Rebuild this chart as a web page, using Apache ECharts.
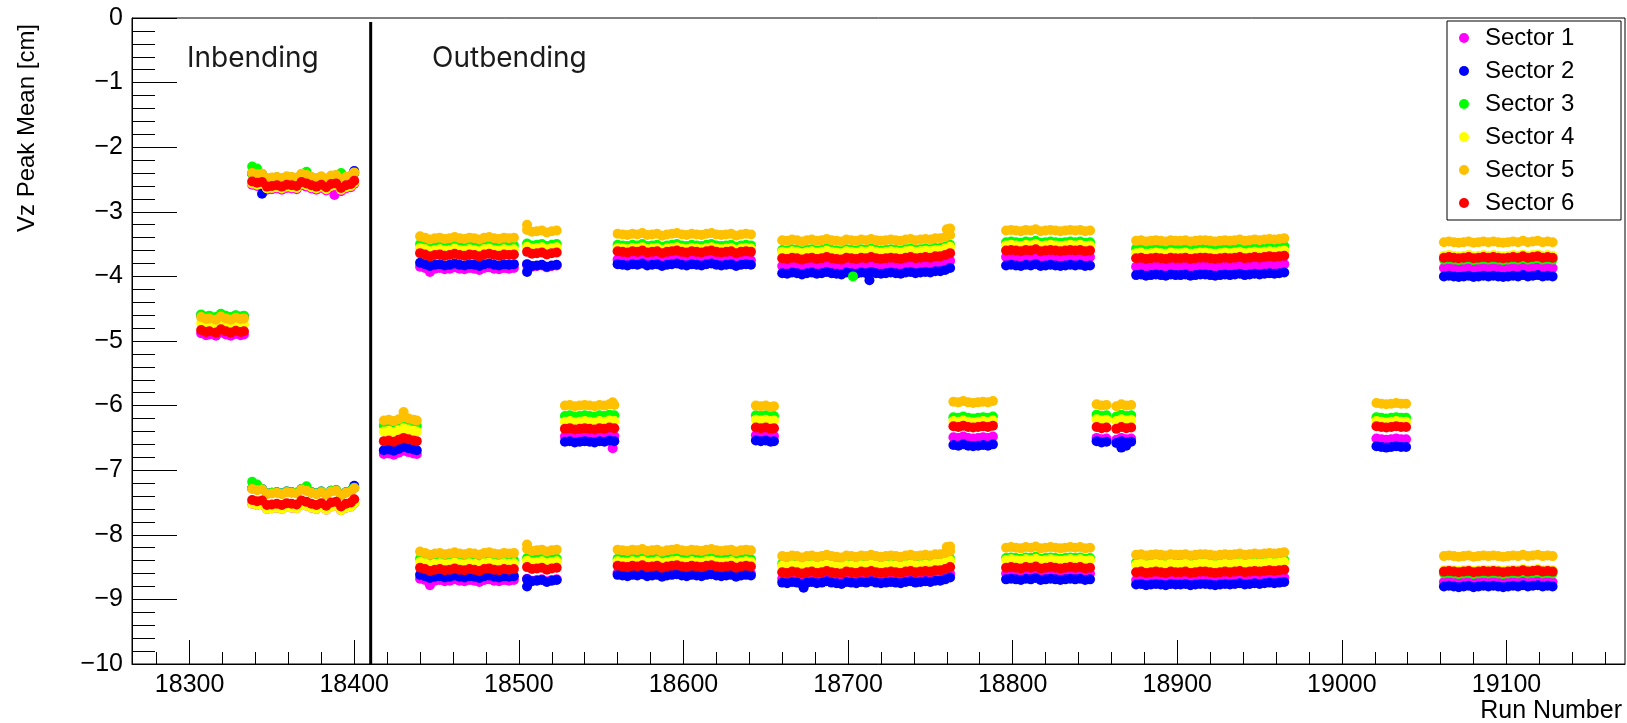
<!DOCTYPE html>
<html lang="en">
<head>
<meta charset="UTF-8" />
<title>Vz Peak Mean vs Run Number</title>
<script src="https://cdn.jsdelivr.net/npm/echarts@6/dist/echarts.min.js"></script>
<style>
  html, body { margin: 0; padding: 0; background: #fff; }
  #chart { width: 1627px; height: 723px; }
</style>
</head>
<body>
<div id="chart"></div>
<script>
// sectors and colours
const sectors = ['Sector 1', 'Sector 2', 'Sector 3', 'Sector 4', 'Sector 5', 'Sector 6'];
const colors = ['#ff00ff', '#0000ff', '#00ff00', '#ffff00', '#ffc000', '#ff0000'];

// axis ticks
const xMajor = [18300, 18400, 18500, 18600, 18700, 18800, 18900, 19000, 19100];
const dividerRun = 18410;

// run blocks (runs) + small wiggle seen in the bands
const runsI1 = [18307, 18310, 18312, 18316, 18319, 18322, 18325, 18328, 18331, 18333];
const wigI1 = [0.02, -0.01, 0, -0.02, 0.03, 0, -0.02, 0.01, -0.01, 0];
const runsI2 = [18338, 18341, 18344, 18347, 18350, 18353, 18356, 18359, 18362, 18365, 18368, 18371, 18374, 18377, 18380, 18383, 18386, 18389, 18392, 18395, 18398, 18400];
const wigI2 = [0.06, 0.04, 0.05, -0.02, -0.01, 0, -0.02, 0.01, 0, -0.01, 0.05, 0.03, 0, -0.02, 0.01, -0.03, 0.02, 0.03, -0.04, 0, 0.02, 0.07];
const runsM1 = [18418, 18421, 18424, 18427, 18430, 18433, 18436, 18438];
const wigM1 = [0, 0.01, -0.01, 0.02, 0.05, 0.03, 0.01, 0];
const runsO1 = [18440, 18443, 18446, 18449, 18452, 18455, 18458, 18461, 18464, 18467, 18470, 18473, 18476, 18479, 18482, 18485, 18488, 18491, 18494, 18497];
const wigO1 = [0.03, 0.01, -0.02, 0, 0.01, -0.01, 0, 0.02, 0, -0.01, 0.01, 0, -0.02, 0.01, 0.02, 0, -0.01, 0.01, 0, 0.01];
const runsO2 = [18505, 18508, 18511, 18514, 18517, 18520, 18523];
const wigO2 = [0.02, -0.01, 0, 0.01, -0.02, 0, 0.01];
const runsM2 = [18528, 18531, 18534, 18537, 18540, 18543, 18546, 18549, 18552, 18555, 18558];
const wigM2 = [0, 0.01, -0.01, 0, 0.01, 0, -0.01, 0.01, 0, 0.02, 0.01];
const runsO3 = [18560, 18563, 18566, 18569, 18572, 18575, 18578, 18581, 18584, 18587, 18590, 18593, 18596, 18599, 18602, 18605, 18608, 18611, 18614, 18617, 18620, 18623, 18626, 18629, 18632, 18635, 18638, 18641];
const wigO3 = [0.01, 0, -0.01, 0.01, 0, 0.02, -0.01, 0, 0.01, -0.02, 0, 0.01, 0.02, 0, -0.01, 0.01, 0, -0.01, 0.01, 0.02, 0, -0.01, 0, 0.01, -0.02, 0, 0.01, 0];
const runsM3 = [18644, 18647, 18650, 18653, 18655];
const wigM3 = [0.01, 0, 0.01, -0.01, 0];
const runsO4 = [18660, 18663, 18666, 18669, 18672, 18675, 18678, 18681, 18684, 18687, 18690, 18693, 18696, 18699, 18702, 18705, 18708, 18711, 18714, 18717, 18720, 18723, 18726, 18729, 18732, 18735, 18738, 18741, 18744, 18747, 18750, 18753, 18756, 18759, 18762];
const wigO4 = [0, -0.01, 0.01, 0, -0.02, 0, 0.01, -0.01, 0, 0.02, 0, -0.01, -0.02, 0.01, 0, -0.01, 0.01, 0, 0.02, 0, -0.01, 0, 0.01, 0, -0.01, 0.01, 0.02, 0, 0.01, 0.02, 0.01, 0.03, 0.03, 0.05, 0.08];
const runsM4 = [18764, 18767, 18770, 18773, 18776, 18779, 18782, 18785, 18788];
const wigM4 = [0.01, 0, 0.02, 0, -0.01, 0, 0.01, 0, 0.02];
const runsO5 = [18796, 18799, 18802, 18805, 18808, 18811, 18814, 18817, 18820, 18823, 18826, 18829, 18832, 18835, 18838, 18841, 18844, 18847];
const wigO5 = [0, 0.01, 0, -0.01, 0.01, 0, 0.02, -0.01, 0, 0.01, 0, -0.01, 0, 0.01, 0, 0.01, -0.01, 0];
const runsM5 = [18851, 18854, 18857, 18863, 18866, 18869, 18872];
const wigM5 = [0.02, 0, 0.01, -0.01, 0.02, 0, 0.01];
const runsO6 = [18875, 18878, 18881, 18884, 18887, 18890, 18893, 18896, 18899, 18902, 18905, 18908, 18911, 18914, 18917, 18920, 18923, 18926, 18929, 18932, 18935, 18938, 18941, 18944, 18947, 18950, 18953, 18956, 18959, 18962, 18965];
const wigO6 = [0, 0.01, -0.01, 0, 0.01, 0, -0.01, 0.01, 0, 0, 0.01, -0.01, 0, 0.01, 0.01, 0, -0.01, 0, 0.01, 0, 0.01, 0.02, 0, 0.01, 0.02, 0.01, 0.02, 0.03, 0.02, 0.03, 0.04];
const runsM6 = [19021, 19024, 19027, 19030, 19033, 19036, 19039];
const wigM6 = [0.01, 0, -0.01, 0, 0.01, 0, 0];
const runsO7 = [19062, 19065, 19068, 19071, 19074, 19077, 19080, 19083, 19086, 19089, 19092, 19095, 19098, 19101, 19104, 19107, 19110, 19113, 19116, 19119, 19122, 19125, 19128];
const wigO7 = [0, 0.01, 0, -0.01, 0, 0.01, -0.01, 0, 0.01, 0, 0.01, 0, -0.01, 0, 0.01, 0, 0.02, 0, 0.01, 0.02, 0, 0.01, 0];

// band levels per sector [S1, S2, S3, S4, S5, S6]
const lvlI1 = [-4.90, -4.62, -4.61, -4.74, -4.65, -4.85];
const lvlI2top = [-2.64, -2.47, -2.47, -2.62, -2.46, -2.59];
const lvlI2bot = [-7.58, -7.34, -7.34, -7.58, -7.35, -7.52];
const lvlM1 = [-6.75, -6.69, -6.31, -6.40, -6.23, -6.55];
const lvlO1top = [-3.88, -3.82, -3.53, -3.59, -3.41, -3.67];
const lvlO1bot = [-8.71, -8.65, -8.40, -8.45, -8.29, -8.54];
const lvlO2top = [-3.84, -3.83, -3.51, -3.56, -3.30, -3.64];
const lvlO2bot = [-8.70, -8.71, -8.38, -8.42, -8.24, -8.52];
const lvlM2 = [-6.48, -6.56, -6.16, -6.25, -6.00, -6.36];
const lvlO3top = [-3.75, -3.82, -3.52, -3.57, -3.35, -3.62];
const lvlO3bot = [-8.60, -8.63, -8.38, -8.42, -8.24, -8.49];
const lvlM3 = [-6.47, -6.55, -6.16, -6.23, -6.01, -6.35];
const lvlO4top = [-3.84, -3.95, -3.59, -3.62, -3.44, -3.72];
const lvlO4bot = [-8.68, -8.74, -8.45, -8.48, -8.33, -8.58];
const lvlM4 = [-6.50, -6.62, -6.19, -6.25, -5.95, -6.33];
const lvlO5top = [-3.70, -3.83, -3.47, -3.52, -3.29, -3.60];
const lvlO5bot = [-8.60, -8.69, -8.36, -8.39, -8.20, -8.51];
const lvlM5 = [-6.52, -6.57, -6.16, -6.23, -6.00, -6.35];
const lvlO6top = [-3.85, -3.98, -3.57, -3.64, -3.45, -3.72];
const lvlO6bot = [-8.70, -8.77, -8.43, -8.46, -8.31, -8.58];
const lvlM6 = [-6.52, -6.64, -6.19, -6.25, -5.97, -6.33];
const lvlO7top = [-3.87, -4.00, -3.74, -3.68, -3.47, -3.71];
const lvlO7bot = [-8.73, -8.80, -8.60, -8.55, -8.33, -8.57];

// single points sticking out of the bands: [sector index, run, value]
const outliers = [
  [2, 18338, -2.30], [2, 18341, -2.33], [2, 18371, -2.38], [2, 18392, -2.40],
  [1, 18400, -2.37], [1, 18344, -2.72], [0, 18388, -2.74],
  [2, 18338, -7.18], [2, 18341, -7.22], [2, 18371, -7.25], [1, 18400, -7.24],
  [4, 18430, -6.10], [0, 18446, -3.93], [0, 18446, -8.78],
  [4, 18505, -3.20], [4, 18505, -8.15], [1, 18505, -3.93], [1, 18505, -8.80],
  [0, 18557, -6.66], [4, 18557, -5.95],
  [1, 18713, -4.06], [1, 18673, -8.82], [2, 18703, -4.00],
  [4, 18760, -3.27], [4, 18762, -3.26], [4, 18760, -8.19], [4, 18762, -8.18],
  [1, 18866, -6.65], [1, 18869, -6.62]
];

const blocks = [
  [runsI1, wigI1, [lvlI1]],
  [runsI2, wigI2, [lvlI2top, lvlI2bot]],
  [runsM1, wigM1, [lvlM1]],
  [runsO1, wigO1, [lvlO1top, lvlO1bot]],
  [runsO2, wigO2, [lvlO2top, lvlO2bot]],
  [runsM2, wigM2, [lvlM2]],
  [runsO3, wigO3, [lvlO3top, lvlO3bot]],
  [runsM3, wigM3, [lvlM3]],
  [runsO4, wigO4, [lvlO4top, lvlO4bot]],
  [runsM4, wigM4, [lvlM4]],
  [runsO5, wigO5, [lvlO5top, lvlO5bot]],
  [runsM5, wigM5, [lvlM5]],
  [runsO6, wigO6, [lvlO6top, lvlO6bot]],
  [runsM6, wigM6, [lvlM6]],
  [runsO7, wigO7, [lvlO7top, lvlO7bot]]
];

// minor ticks every 20 runs
const xMinor = [];
for (let r = 18280; r <= 19160; r += 20) if (r % 100 !== 0) xMinor.push(r);

const series = sectors.map(function (name, s) {
  const data = [];
  blocks.forEach(function (b) {
    b[2].forEach(function (lvl) {
      b[0].forEach(function (run, i) {
        data.push([run, +(lvl[s] + (b[1][i] || 0)).toFixed(3)]);
      });
    });
  });
  outliers.forEach(function (o) { if (o[0] === s) data.push([o[1], o[2]]); });
  return {
    name: name,
    type: 'scatter',
    data: data,
    symbol: 'circle',
    symbolSize: 10,
    itemStyle: { color: colors[s], opacity: 1 },
    emphasis: { disabled: true }
  };
});

// black divider between inbending and outbending
series.push({
  type: 'line',
  data: [[dividerRun, -0.06], [dividerRun, -10]],
  symbol: 'none',
  lineStyle: { color: '#000', width: 3 },
  silent: true,
  z: 5
});

const font = '"Liberation Sans", Arial, sans-serif';
const gridBox = { left: 132, right: 2, top: 18, bottom: 59 };
const chart = echarts.init(document.getElementById('chart'));
chart.setOption({
  animation: false,
  backgroundColor: '#fff',
  grid: [
    Object.assign({ show: true, borderColor: '#000', borderWidth: 1 }, gridBox),
    Object.assign({ show: false }, gridBox)
  ],
  xAxis: [{
    type: 'value', gridIndex: 0, min: 18265, max: 19172, position: 'bottom',
    axisLine: { onZero: false, lineStyle: { color: '#000', width: 1 } },
    axisTick: { inside: true, length: 24, customValues: xMajor, lineStyle: { color: '#000' } },
    axisLabel: {
      customValues: xMajor, fontSize: 25, fontFamily: font, color: '#000', margin: 9,
      formatter: function (v) { return String(v); }
    },
    splitLine: { show: false }
  }, {
    // minor ticks on an overlaid copy of the axis
    type: 'value', gridIndex: 1, min: 18265, max: 19172, position: 'bottom',
    axisLine: { show: false, onZero: false },
    axisTick: { inside: true, length: 12, customValues: xMinor, lineStyle: { color: '#000' } },
    axisLabel: { show: false },
    splitLine: { show: false }
  }],
  yAxis: [{
    type: 'value', gridIndex: 0, min: -10, max: 0, interval: 1,
    axisLine: { show: true, onZero: false, lineStyle: { color: '#000', width: 1 } },
    axisTick: { inside: true, length: 45, lineStyle: { color: '#000' } },
    minorTick: { show: true, splitNumber: 5, length: 23, lineStyle: { color: '#000' } },
    axisLabel: {
      fontSize: 25, fontFamily: font, color: '#000', margin: 9,
      formatter: function (v) { return v < 0 ? '\u2212' + (-v) : String(v); }
    },
    splitLine: { show: false }
  }, {
    type: 'value', gridIndex: 1, min: -10, max: 0, show: false
  }],
  legend: {
    data: sectors,
    orient: 'vertical',
    left: 1459, top: 26,
    padding: 0,
    itemGap: 9,
    itemWidth: 10, itemHeight: 10,
    icon: 'circle',
    textStyle: { fontSize: 24, fontFamily: font, color: '#000', padding: [0, 0, 0, 11] },
    z: 10
  },
  graphic: [
    { type: 'rect', z: 9, shape: { x: 1447, y: 21, width: 174, height: 199 },
      style: { fill: '#fff', stroke: '#000', lineWidth: 1 } },
    { type: 'text', x: 27, y: 128, rotation: Math.PI / 2,
      style: { text: 'Vz Peak Mean [cm]', font: '24px ' + font, fill: '#000', align: 'center', verticalAlign: 'middle' } },
    { type: 'text', x: 1622, y: 711,
      style: { text: 'Run Number', font: '25px ' + font, fill: '#000', align: 'right', verticalAlign: 'middle' } },
    { type: 'text', x: 187, y: 59,
      style: { text: 'Inbending', font: '28px Inter, "Noto Sans", sans-serif', fill: '#1a1a1a', align: 'left', verticalAlign: 'middle' } },
    { type: 'text', x: 432, y: 59,
      style: { text: 'Outbending', font: '28px Inter, "Noto Sans", sans-serif', fill: '#1a1a1a', align: 'left', verticalAlign: 'middle' } }
  ],
  series: series
});
</script>
</body>
</html>
